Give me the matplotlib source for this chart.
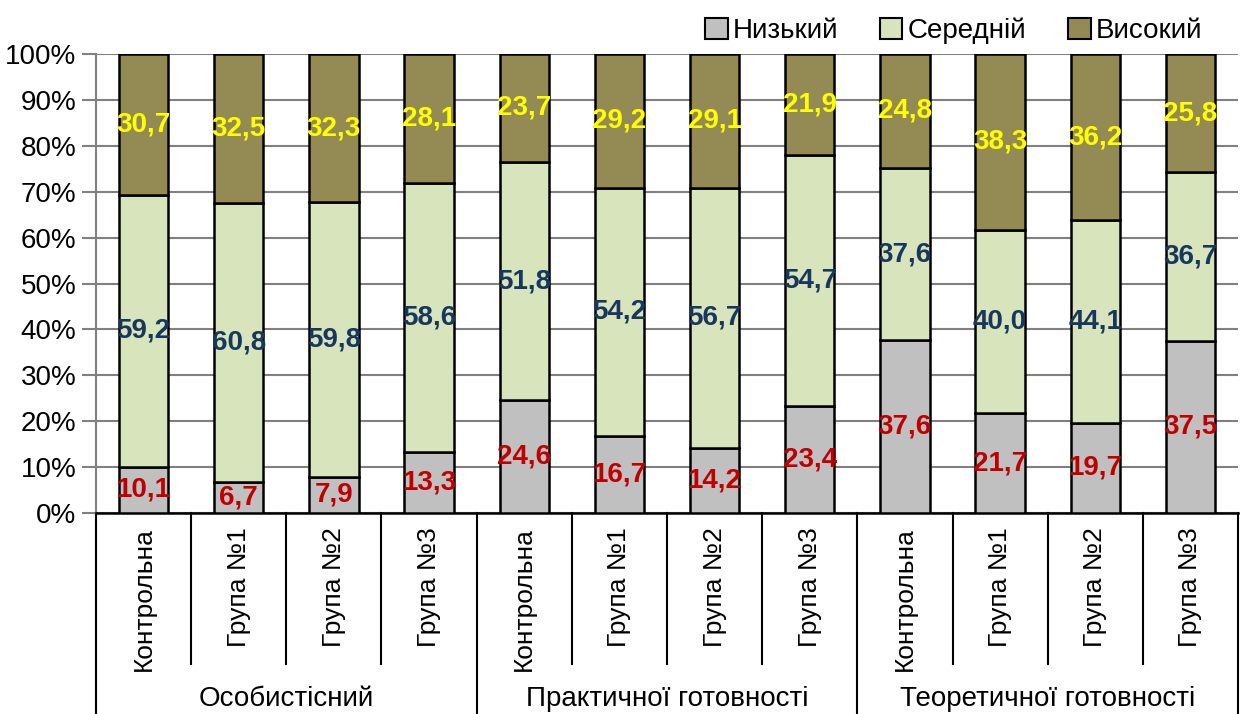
import numpy as np
import matplotlib
matplotlib.use('Agg')
import matplotlib.pyplot as plt
from matplotlib.patches import Patch

plt.rcParams['font.family'] = ['Liberation Sans', 'DejaVu Sans']

# Дані
groups = ['Особистісний', 'Практичної готовності', 'Теоретичної готовності']
categories = ['Контрольна', 'Група №1', 'Група №2', 'Група №3'] * 3
low = [10.1, 6.7, 7.9, 13.3, 24.6, 16.7, 14.2, 23.4, 37.6, 21.7, 19.7, 37.5]
mid = [59.2, 60.8, 59.8, 58.6, 51.8, 54.2, 56.7, 54.7, 37.6, 40.0, 44.1, 36.7]
high = [30.7, 32.5, 32.3, 28.1, 23.7, 29.2, 29.1, 21.9, 24.8, 38.3, 36.2, 25.8]
series_names = ['Низький', 'Середній', 'Високий']

colors = ['#C0C0C0', '#D8E4BC', '#948A54']
label_colors = ['#C00000', '#17375E', '#FFFF00']

fig = plt.figure(figsize=(12.4, 7.14), dpi=100)
ax = fig.add_axes([96 / 1240, 1 - 513 / 714, (1238 - 96) / 1240, 459 / 714])

x = np.arange(len(categories))
w = 0.52
bottom = np.zeros(len(categories))
for vals, col, lc in zip([low, mid, high], colors, label_colors):
    vals = np.array(vals)
    ax.bar(x, vals, w, bottom=bottom, color=col, edgecolor='black', linewidth=1.8, zorder=3)
    for xi, b, v in zip(x, bottom, vals):
        ax.text(xi, b + v / 2, f'{v:.1f}'.replace('.', ','), ha='center', va='center',
                color=lc, fontsize=20, fontweight='bold', zorder=4)
    bottom += vals

ax.set_xlim(-0.5, len(categories) - 0.5)
ax.set_ylim(0, 100)
ax.set_yticks(np.arange(0, 101, 10))
ax.set_yticklabels([f'{v}%' for v in range(0, 101, 10)], fontsize=20)
ax.yaxis.grid(True, color='#808080', linewidth=1.5, zorder=0)
ax.tick_params(axis='y', length=10, width=1.5, color='#808080', pad=4)

ax.set_xticks(x)
ax.set_xticklabels(categories, rotation=90, fontsize=19)
ax.tick_params(axis='x', length=0, pad=10)

for s in ['top', 'right']:
    ax.spines[s].set_visible(False)
ax.spines['left'].set_color('#808080')
ax.spines['left'].set_linewidth(1.5)
ax.spines['bottom'].set_color('black')
ax.spines['bottom'].set_linewidth(1.8)

# роздільники під віссю
trans = ax.get_xaxis_transform()
for b in np.arange(-0.5, len(categories), 1.0):
    if b in (-0.5, 3.5, 7.5, 11.5):
        ax.plot([b, b], [0, -0.45], transform=trans, color='black', lw=1.5, clip_on=False)
    else:
        ax.plot([b, b], [0, -0.33], transform=trans, color='black', lw=1.5, clip_on=False)

for gi, g in enumerate(groups):
    ax.text(gi * 4 + 1.5, -0.405, g, transform=trans, ha='center', va='center', fontsize=20)

handles = [Patch(facecolor=c, edgecolor='black', linewidth=1.5) for c in colors]
fig.legend(handles, series_names, loc='upper right', bbox_to_anchor=(0.99, 1.01), ncol=3,
           frameon=False, fontsize=20, handlelength=0.8, handleheight=0.8,
           handletextpad=0.2, columnspacing=1.5)

fig.savefig('out.png', dpi=100)
